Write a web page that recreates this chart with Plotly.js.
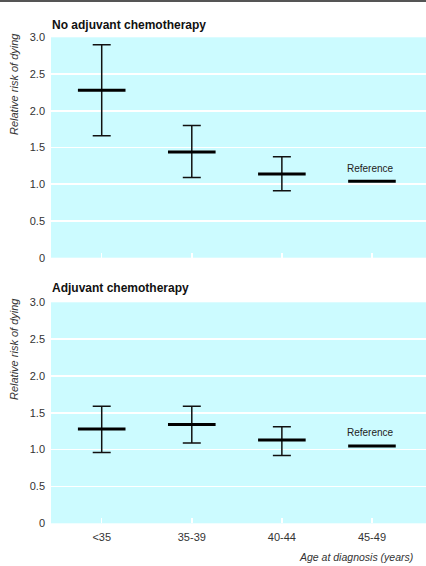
<!DOCTYPE html>
<html>
<head>
<meta charset="utf-8">
<script src="https://cdn.plot.ly/plotly-3.0.1.min.js"></script>
<style>
html,body{margin:0;padding:0;background:#fff;}
#chart{width:426px;height:566px;}
</style>
</head>
<body>
<div id="chart"></div>
<script>
const categories = ["<35", "35-39", "40-44", "45-49"];
const tickVals = [0, 0.5, 1.0, 1.5, 2.0, 2.5, 3.0];
const tickText = ["0", "0.5", "1.0", "1.5", "2.0", "2.5", "3.0"];

// No adjuvant chemotherapy
const noAdjRR    = [2.28, 1.44, 1.14, 1.04];
const noAdjUpper = [2.90, 1.80, 1.375, null];
const noAdjLower = [1.66, 1.09, 0.91, null];

// Adjuvant chemotherapy
const adjRR    = [1.28, 1.34, 1.13, 1.05];
const adjUpper = [1.59, 1.59, 1.31, null];
const adjLower = [0.96, 1.09, 0.92, null];

const panelTitles = ["No adjuvant chemotherapy", "Adjuvant chemotherapy"];
const refLabel = "Reference";
const yTitle = "Relative risk of dying";
const xTitle = "Age at diagnosis (years)";

const FONT = "Liberation Sans Narrow, Arial Narrow, Liberation Sans, Arial, sans-serif";

function panelTraces(rr, up, lo, xa, ya) {
  const n = categories.length - 1; // points with CIs
  const cx = categories.slice(0, n);
  const ciTrace = {
    type: "scatter", mode: "markers",
    x: cx, y: rr.slice(0, n), xaxis: xa, yaxis: ya,
    marker: {symbol: "line-ew", size: 34, color: "#000", line: {width: 3, color: "#000"}},
    error_y: {
      type: "data", symmetric: false,
      array: up.slice(0, n).map((u, i) => u - rr[i]),
      arrayminus: lo.slice(0, n).map((l, i) => rr[i] - l),
      color: "#111", thickness: 1.5, width: 9
    },
    hoverinfo: "skip", showlegend: false, cliponaxis: false
  };
  const refTrace = {
    type: "scatter", mode: "markers",
    x: categories.slice(n), y: rr.slice(n), xaxis: xa, yaxis: ya,
    marker: {symbol: "line-ew", size: 34, color: "#000", line: {width: 3, color: "#000"}},
    hoverinfo: "skip", showlegend: false
  };
  return [ciTrace, refTrace];
}

const data = [
  ...panelTraces(noAdjRR, noAdjUpper, noAdjLower, "x", "y"),
  ...panelTraces(adjRR, adjUpper, adjLower, "x2", "y2")
];

const xaxisBase = {
  type: "category", categoryorder: "array", categoryarray: categories,
  range: [-0.563, 3.6], showgrid: false, zeroline: false, showline: false,
  ticks: "inside", ticklen: 5, tickwidth: 1.5, tickcolor: "#ffffff",
  tickfont: {family: FONT, size: 11, color: "#333"}, ticklabelstandoff: 6
};
const yaxisBase = {
  range: [0, 3.0], tickvals: tickVals, ticktext: tickText,
  showgrid: true, gridcolor: "#ffffff", gridwidth: 1.5,
  zeroline: false, showline: false, ticks: "",
  tickfont: {family: FONT, size: 11, color: "#333"}, ticklabelstandoff: 5
};

const H = 566;
function py(px) { return 1 - px / H; }

const refNote = (rr, xa, ya) => ({
  text: refLabel, xref: xa, yref: ya, x: categories[3], y: rr[3],
  yshift: 13, xshift: -1, showarrow: false, xanchor: "center", yanchor: "middle",
  font: {family: FONT, size: 10, color: "#222"}
});

const layout = {
  width: 426, height: 566,
  margin: {l: 0, r: 0, t: 0, b: 0},
  paper_bgcolor: "#ffffff", plot_bgcolor: "#ccfbff",
  showlegend: false,
  xaxis: Object.assign({}, xaxisBase, {domain: [51/426, 1], anchor: "y", showticklabels: false}),
  yaxis: Object.assign({}, yaxisBase, {domain: [py(257.7), py(37.3)], anchor: "x"}),
  xaxis2: Object.assign({}, xaxisBase, {domain: [51/426, 1], anchor: "y2"}),
  yaxis2: Object.assign({}, yaxisBase, {domain: [py(523.3), py(302.3)], anchor: "x2"}),
  shapes: [
    {type: "line", xref: "paper", yref: "paper", x0: 0, x1: 1, y0: py(1), y1: py(1),
     line: {color: "#555", width: 2}}
  ],
  annotations: [
    refNote(noAdjRR, "x", "y"),
    refNote(adjRR, "x2", "y2"),
    {text: "<b>" + panelTitles[0] + "</b>", xref: "paper", yref: "paper",
     x: 50/426, y: py(25), xanchor: "left", yanchor: "middle", showarrow: false,
     font: {family: FONT, size: 12, color: "#111"}},
    {text: "<b>" + panelTitles[1] + "</b>", xref: "paper", yref: "paper",
     x: 50/426, y: py(288), xanchor: "left", yanchor: "middle", showarrow: false,
     font: {family: FONT, size: 12, color: "#111"}},
    {text: "<i>" + yTitle + "</i>", xref: "paper", yref: "paper",
     x: 14/426, y: py(84), xanchor: "center", yanchor: "middle", textangle: -90, showarrow: false,
     font: {family: FONT, size: 11, color: "#333"}},
    {text: "<i>" + yTitle + "</i>", xref: "paper", yref: "paper",
     x: 14/426, y: py(349), xanchor: "center", yanchor: "middle", textangle: -90, showarrow: false,
     font: {family: FONT, size: 11, color: "#333"}},
    {text: "<i>" + xTitle + "</i>", xref: "paper", yref: "paper",
     x: 415/426, y: py(557), xanchor: "right", yanchor: "middle", showarrow: false,
     font: {family: FONT, size: 10.5, color: "#333"}}
  ]
};

Plotly.newPlot("chart", data, layout, {staticPlot: true, displayModeBar: false});
</script>
</body>
</html>
